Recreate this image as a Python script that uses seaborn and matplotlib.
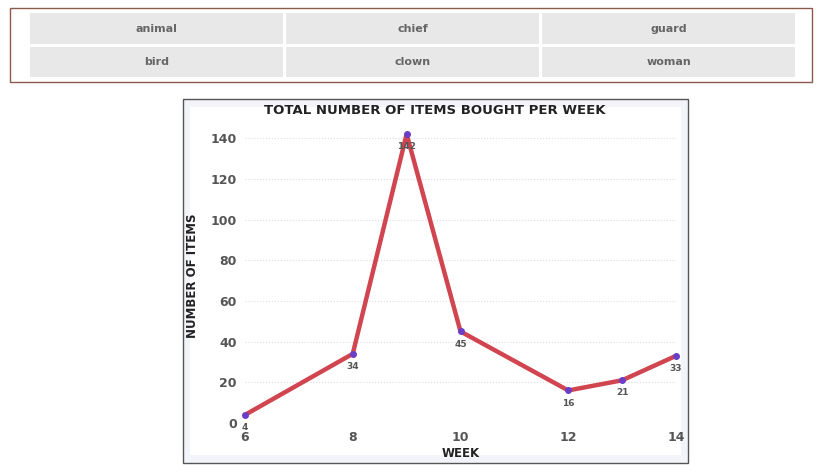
import matplotlib
matplotlib.use("Agg")
import matplotlib.pyplot as plt
from matplotlib.patches import Rectangle
import seaborn as sns
import pandas as pd

weeks = [6, 8, 9, 10, 12, 13, 14]
items = [4, 34, 142, 45, 16, 21, 33]
table_words = [["animal", "chief", "guard"], ["bird", "clown", "woman"]]
xticks = [6, 8, 10, 12, 14]
yticks = [0, 20, 40, 60, 80, 100, 120, 140]

W, H = 822, 475
fig = plt.figure(figsize=(W/100, H/100), dpi=100)
def fx(x): return x / W
def fy(y): return 1 - y / H

def addrect(x, y, w, h, **kw):
    fig.patches.append(Rectangle((x, y), w, h, transform=fig.transFigure, zorder=-5, **kw))

addrect(fx(10), fy(82), 802/W, 74/H, facecolor="white", edgecolor="#8a5a4a", lw=1)
cols = [(30, 283), (286, 539), (542, 795)]
rows = [(13, 44), (47, 77)]
for r, (y0, y1) in enumerate(rows):
    for c, (x0, x1) in enumerate(cols):
        addrect(fx(x0), fy(y1), (x1-x0)/W, (y1-y0)/H, facecolor="#e8e8e8", edgecolor="none")
        fig.text(fx((x0+x1)/2), fy((y0+y1)/2), table_words[r][c], ha="center", va="center",
                 fontsize=8, fontweight="bold", color="#666666")

addrect(fx(183), fy(463), 505/W, 364/H, facecolor="#f3f3fa", edgecolor="#555555", lw=1)
addrect(fx(190), fy(455), 491/W, 348/H, facecolor="white", edgecolor="none")

ax = fig.add_axes([fx(245), fy(423), (676-245)/W, (423-128)/H])
ax.set_zorder(2)
ax.set_facecolor("none")
df = pd.DataFrame({"week": weeks, "items": items})
sns.lineplot(data=df, x="week", y="items", ax=ax, color="#d0454f", lw=3.2, zorder=3)
ax.scatter(weeks, items, color="#6a3fc8", s=16, zorder=4, clip_on=False)
for w, v in zip(weeks, items):
    ax.text(w, v - 4, str(v), ha="center", va="top", fontsize=6.5, fontweight="bold", color="#555555", zorder=5)
ax.set_xlim(6, 14)
ax.set_ylim(0, 145)
ax.set_xticks(xticks)
ax.set_yticks(yticks)
ax.tick_params(length=0, labelsize=9, labelcolor="#555555", pad=6)
for lab in ax.get_xticklabels() + ax.get_yticklabels():
    lab.set_fontweight("bold")
ax.grid(axis="y", color="#dddddd", ls=":", lw=0.8)
for s in ax.spines.values():
    s.set_visible(False)
ax.set_xlabel("WEEK", fontsize=8.5, fontweight="bold", color="#222222", labelpad=2)
ax.set_ylabel("NUMBER OF ITEMS", fontsize=8.5, fontweight="bold", color="#222222", labelpad=8)
fig.text(fx(435), fy(111), "TOTAL NUMBER OF ITEMS BOUGHT PER WEEK", ha="center", va="center",
         fontsize=9.5, fontweight="bold", color="#222222")
fig.savefig("out.png", dpi=100)
